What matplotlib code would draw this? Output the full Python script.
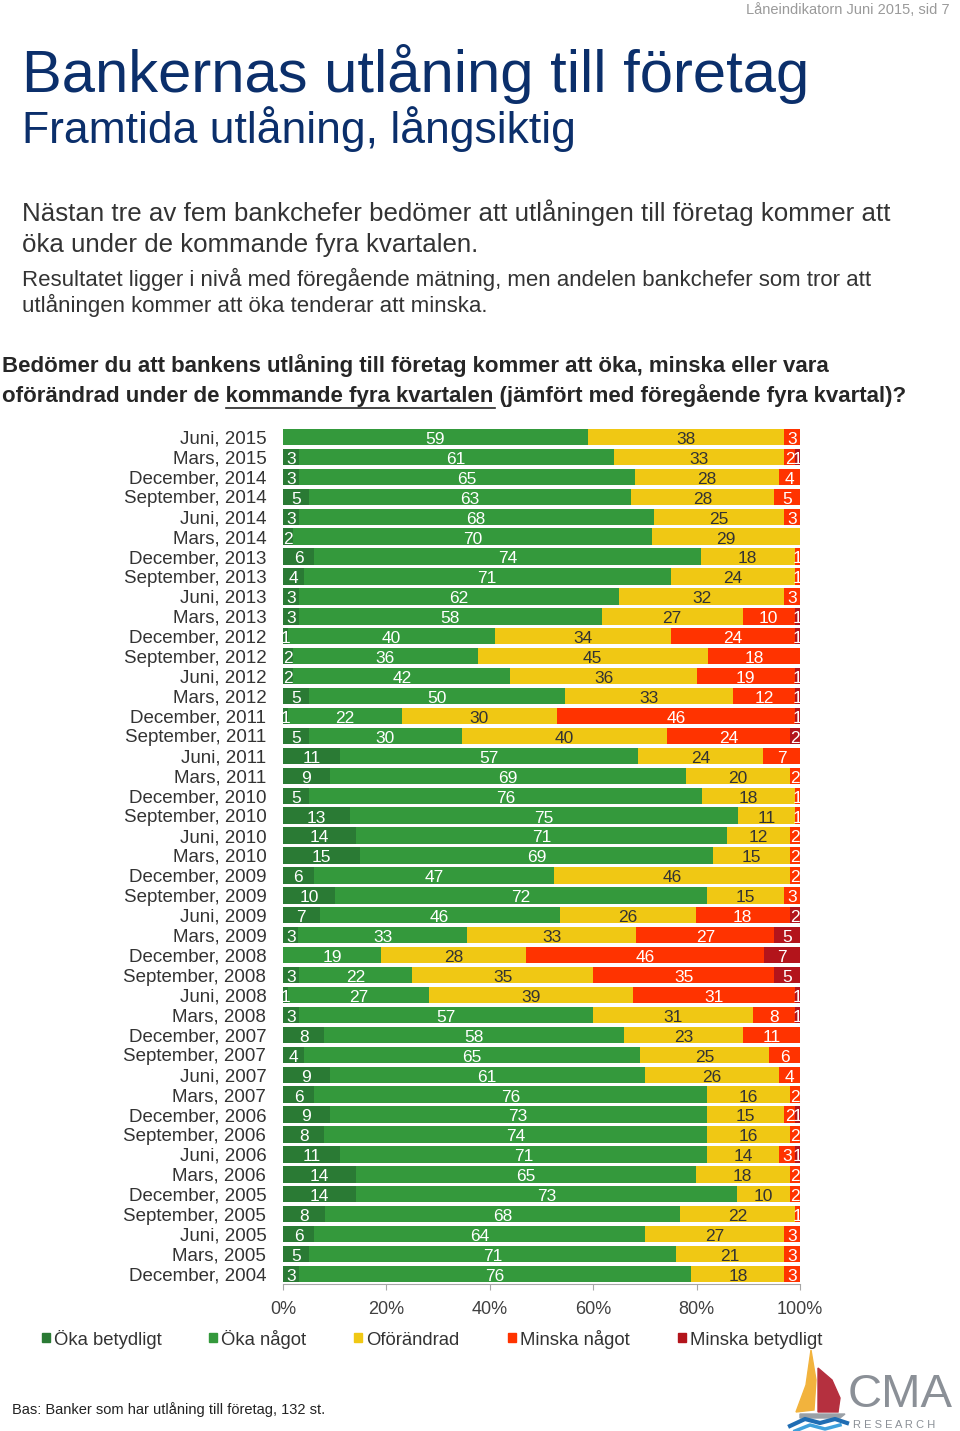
import matplotlib
matplotlib.use("Agg")
import matplotlib.pyplot as plt
import numpy as np
from matplotlib.patches import Rectangle, Polygon

plt.rcParams['font.family'] = ['Liberation Sans', 'DejaVu Sans']

# ---- data (top row first) ----
periods = ["Juni, 2015", "Mars, 2015", "December, 2014", "September, 2014", "Juni, 2014",
           "Mars, 2014", "December, 2013", "September, 2013", "Juni, 2013", "Mars, 2013",
           "December, 2012", "September, 2012", "Juni, 2012", "Mars, 2012", "December, 2011",
           "September, 2011", "Juni, 2011", "Mars, 2011", "December, 2010", "September, 2010",
           "Juni, 2010", "Mars, 2010", "December, 2009", "September, 2009", "Juni, 2009",
           "Mars, 2009", "December, 2008", "September, 2008", "Juni, 2008", "Mars, 2008",
           "December, 2007", "September, 2007", "Juni, 2007", "Mars, 2007", "December, 2006",
           "September, 2006", "Juni, 2006", "Mars, 2006", "December, 2005", "September, 2005",
           "Juni, 2005", "Mars, 2005", "December, 2004"]

oka_betydligt = [0, 3, 3, 5, 3, 2, 6, 4, 3, 3, 1, 2, 2, 5, 1, 5, 11, 9, 5, 13, 14, 15, 6, 10, 7,
                 3, 0, 3, 1, 3, 8, 4, 9, 6, 9, 8, 11, 14, 14, 8, 6, 5, 3]
oka_nagot = [59, 61, 65, 63, 68, 70, 74, 71, 62, 58, 40, 36, 42, 50, 22, 30, 57, 69, 76, 75, 71,
             69, 47, 72, 46, 33, 19, 22, 27, 57, 58, 65, 61, 76, 73, 74, 71, 65, 73, 68, 64, 71, 76]
oforandrad = [38, 33, 28, 28, 25, 29, 18, 24, 32, 27, 34, 45, 36, 33, 30, 40, 24, 20, 18, 11, 12,
              15, 46, 15, 26, 33, 28, 35, 39, 31, 23, 25, 26, 16, 15, 16, 14, 18, 10, 22, 27, 21, 18]
minska_nagot = [3, 2, 4, 5, 3, 0, 1, 1, 3, 10, 24, 18, 19, 12, 46, 24, 7, 2, 1, 1, 2, 2, 2, 3,
                18, 27, 46, 35, 31, 8, 11, 6, 4, 2, 2, 2, 3, 2, 2, 1, 3, 3, 3]
minska_betydligt = [0, 1, 0, 0, 0, 0, 0, 0, 0, 1, 1, 0, 1, 1, 1, 2, 0, 0, 0, 0, 0, 0, 0, 0, 2,
                    5, 7, 5, 1, 1, 0, 0, 0, 0, 1, 0, 1, 0, 0, 0, 0, 0, 0]

series_names = ["Öka betydligt", "Öka något", "Oförändrad", "Minska något", "Minska betydligt"]
x_ticks = [0, 20, 40, 60, 80, 100]

# ---- styling ----
colors = ['#2a7a34', '#34993c', '#f0c814', '#ff3300', '#b3141b']
label_colors = ['white', 'white', '#333333', 'white', 'white']
navy = '#0b2f6b'
W, H = 960, 1431

fig = plt.figure(figsize=(W / 100, H / 100), dpi=100)

# overlay in pixel coordinates for page text
ov = fig.add_axes([0, 0, 1, 1])
ov.set_xlim(0, W)
ov.set_ylim(H, 0)
ov.axis('off')

ov.text(950, 14, "Låneindikatorn Juni 2015, sid 7", ha='right', va='baseline',
        fontsize=10.5, color='#9a9a9a')
ov.text(22, 92, "Bankernas utlåning till företag", ha='left', va='baseline',
        fontsize=43, color=navy)
ov.text(22, 143, "Framtida utlåning, långsiktig", ha='left', va='baseline',
        fontsize=32, color=navy)
ov.text(22, 221, "Nästan tre av fem bankchefer bedömer att utlåningen till företag kommer att",
        ha='left', va='baseline', fontsize=18.6, color='#333333')
ov.text(22, 252, "öka under de kommande fyra kvartalen.",
        ha='left', va='baseline', fontsize=18.6, color='#333333')
ov.text(22, 286, "Resultatet ligger i nivå med föregående mätning, men andelen bankchefer som tror att",
        ha='left', va='baseline', fontsize=16, color='#333333')
ov.text(22, 312, "utlåningen kommer att öka tenderar att minska.",
        ha='left', va='baseline', fontsize=16, color='#333333')
ov.text(2, 372, "Bedömer du att bankens utlåning till företag kommer att öka, minska eller vara",
        ha='left', va='baseline', fontsize=16, fontweight='bold', color='#262626')
ov.text(2, 402, "oförändrad under de kommande fyra kvartalen (jämfört med föregående fyra kvartal)?",
        ha='left', va='baseline', fontsize=16, fontweight='bold', color='#262626')
ov.plot([226, 495], [408, 408], color='#262626', lw=1.2)

ov.text(12, 1414, "Bas: Banker som har utlåning till företag, 132 st.", ha='left', va='baseline',
        fontsize=10.5, color='#222222')

# legend
legend_x = [42, 209, 354, 508, 678]
for name, c, lx in zip(series_names, colors, legend_x):
    ov.add_patch(Rectangle((lx, 1333), 8, 9, color=c))
    ov.text(lx + 12, 1345, name, ha='left', va='baseline', fontsize=13.3, color='#333333')

# logo
ov.add_patch(Polygon([[811, 1350], [806, 1385], [796, 1412], [814, 1410], [816, 1380]],
                     closed=True, color='#f2b33d'))
ov.add_patch(Polygon([[818, 1368], [832, 1380], [840, 1398], [838, 1412], [818, 1412]],
                     closed=True, color='#b5303f'))
ov.add_patch(Polygon([[800, 1414], [845, 1414], [840, 1418], [800, 1418]],
                     closed=True, color='#9aa0a6'))
ov.plot([790, 805, 820, 835, 847], [1426, 1419, 1423, 1419, 1423], color='#1f6db3', lw=3)
ov.plot([795, 810, 825, 840], [1431, 1425, 1429, 1425], color='#3ea0dc', lw=2.5)
ov.text(848, 1407, "CMA", ha='left', va='baseline', fontsize=34, color='#8b9097')
ov.text(853, 1428, "R E S E A R C H", ha='left', va='baseline', fontsize=8, color='#8b9097')

# ---- chart ----
ax = fig.add_axes([283 / W, 1 - 1284 / H, 517 / W, (1284 - 427) / H])

vals = np.array([oka_betydligt, oka_nagot, oforandrad, minska_nagot, minska_betydligt], dtype=float)
totals = vals.sum(axis=0)
shares = vals / totals * 100
y = np.arange(len(periods))

left = np.zeros(len(periods))
for k in range(len(series_names)):
    ax.barh(y, shares[k], left=left, height=0.82, color=colors[k], linewidth=0)
    for i in range(len(periods)):
        v = vals[k, i]
        if v > 0:
            ax.text(left[i] + shares[k, i] / 2, y[i] + 0.12, f"{int(v)}", ha='center', va='center',
                    fontsize=12.5, color=label_colors[k], clip_on=True)
    left += shares[k]

ax.set_xlim(0, 100)
ax.set_ylim(len(periods) - 0.5, -0.5)
ax.set_yticks(y)
ax.set_yticklabels(periods, fontsize=13.5, color='#333333')
ax.set_xticks(x_ticks)
ax.set_xticklabels([f"{t}%" for t in x_ticks], fontsize=13, color='#404040')
ax.tick_params(axis='y', length=0, pad=12)
ax.tick_params(axis='x', length=4, color='#a6a6a6', pad=8)
for s in ['top', 'right', 'left']:
    ax.spines[s].set_visible(False)
ax.spines['bottom'].set_color('#a6a6a6')
ax.patch.set_alpha(0)

fig.savefig("out.png", dpi=100)
